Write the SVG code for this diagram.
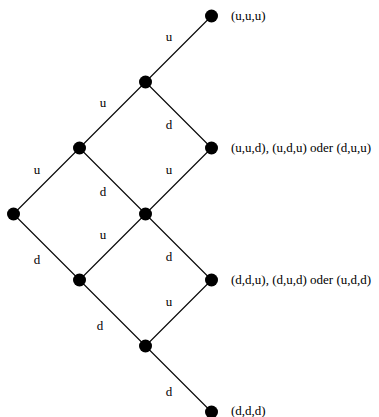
<svg xmlns="http://www.w3.org/2000/svg" width="379" height="417" viewBox="0 0 379 417">
  <style>
    .edge { stroke: #000; stroke-width: 1.1; fill: none; }
    .node { fill: #000; }
    text { font-family: "Liberation Serif", "Times New Roman", serif; font-size: 13px; fill: #000; }
    .lbl { text-anchor: middle; }
  </style>
  <rect width="379" height="417" fill="#fff"/>
  <g id="connectors">
    <line class="edge" x1="145.5" y1="82" x2="211.5" y2="16"/>
    <line class="edge" x1="79.5" y1="148" x2="145.5" y2="82"/>
    <line class="edge" x1="145.5" y1="82" x2="211.5" y2="148"/>
    <line class="edge" x1="13.5" y1="214" x2="79.5" y2="148"/>
    <line class="edge" x1="79.5" y1="148" x2="145.5" y2="214"/>
    <line class="edge" x1="145.5" y1="214" x2="211.5" y2="148"/>
    <line class="edge" x1="13.5" y1="214" x2="79.5" y2="280"/>
    <line class="edge" x1="79.5" y1="280" x2="145.5" y2="214"/>
    <line class="edge" x1="145.5" y1="214" x2="211.5" y2="280"/>
    <line class="edge" x1="79.5" y1="280" x2="145.5" y2="346"/>
    <line class="edge" x1="145.5" y1="346" x2="211.5" y2="280"/>
    <line class="edge" x1="145.5" y1="346" x2="211.5" y2="412"/>
    <text class="lbl" x="169" y="40.5">u</text>
    <text class="lbl" x="103" y="106.5">u</text>
    <text class="lbl" x="169" y="129">d</text>
    <text class="lbl" x="37" y="173.5">u</text>
    <text class="lbl" x="169" y="173.5">u</text>
    <text class="lbl" x="103" y="196">d</text>
    <text class="lbl" x="103" y="239">u</text>
    <text class="lbl" x="37" y="264">d</text>
    <text class="lbl" x="169" y="261">d</text>
    <text class="lbl" x="169" y="305.5">u</text>
    <text class="lbl" x="100" y="330">d</text>
    <text class="lbl" x="169" y="396">d</text>
  </g>
  <g id="n-uuu"><circle class="node" cx="211.5" cy="16" r="6.5"/><text x="231" y="20">(u,u,u)</text></g>
  <g id="n-u"><circle class="node" cx="145.5" cy="82" r="6.5"/></g>
  <g id="n-uu"><circle class="node" cx="79.5" cy="148" r="6.5"/></g>
  <g id="n-uud"><circle class="node" cx="211.5" cy="148" r="6.5"/><text x="231" y="152">(u,u,d), (u,d,u) oder (d,u,u)</text></g>
  <g id="n-root"><circle class="node" cx="13.5" cy="214" r="6.5"/></g>
  <g id="n-ud"><circle class="node" cx="145.5" cy="214" r="6.5"/></g>
  <g id="n-d"><circle class="node" cx="79.5" cy="280" r="6.5"/></g>
  <g id="n-ddu"><circle class="node" cx="211.5" cy="280" r="6.5"/><text x="231" y="284">(d,d,u), (d,u,d) oder (u,d,d)</text></g>
  <g id="n-dd"><circle class="node" cx="145.5" cy="346" r="6.5"/></g>
  <g id="n-ddd"><circle class="node" cx="211.5" cy="412" r="6.5"/><text x="231" y="415">(d,d,d)</text></g>
</svg>
